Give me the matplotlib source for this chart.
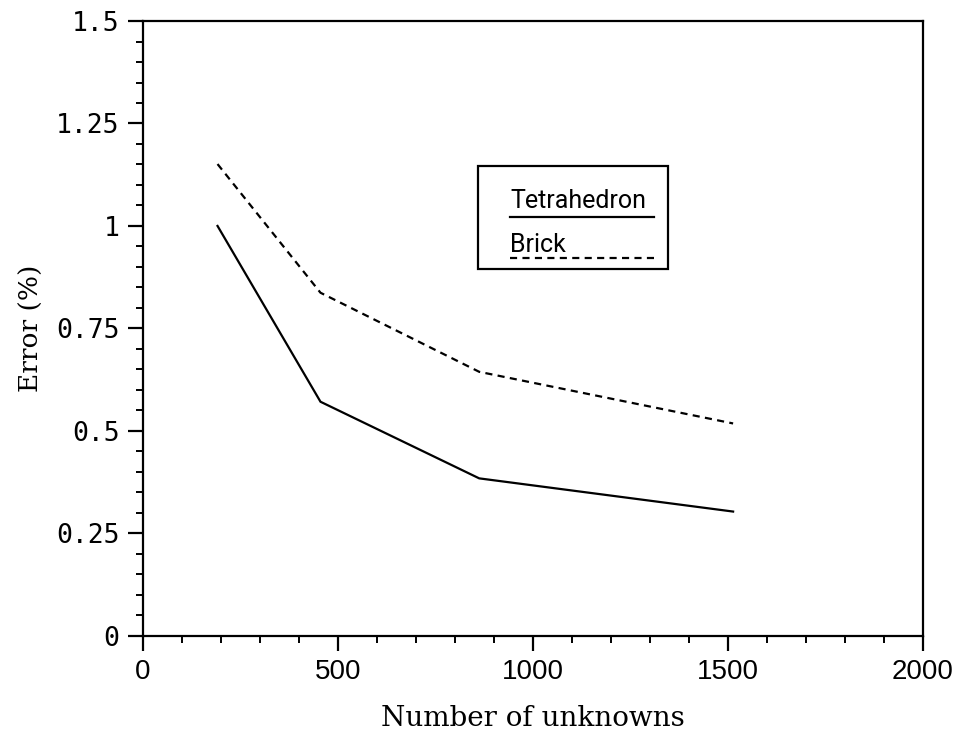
import numpy as np
import matplotlib
matplotlib.use("Agg")
import matplotlib.pyplot as plt
from matplotlib.patches import Rectangle
from matplotlib.lines import Line2D
from matplotlib.ticker import MultipleLocator, FixedLocator

# datos
unknowns = [191, 455, 862, 1513]
err_tetra = [1.000, 0.571, 0.384, 0.303]
err_brick = [1.151, 0.837, 0.644, 0.518]

x_ticks = [0, 500, 1000, 1500, 2000]
y_ticks = [0, 0.25, 0.5, 0.75, 1.0, 1.25, 1.5]
y_ticklabels = ["0", "0.25", "0.5", "0.75", "1", "1.25", "1.5"]

legend_names = ["Tetrahedron", "Brick"]

fig = plt.figure(figsize=(9.6, 7.33), dpi=100)
ax = fig.add_axes([0.149, 0.1327, 0.8125, 0.8386])

lw = 1.6
dash = (0, (3.2, 2.4))
ax.plot(unknowns, err_tetra, color="black", lw=lw, solid_joinstyle="miter")
ax.plot(unknowns, err_brick, color="black", lw=lw, linestyle=dash)

ax.set_xlim(0, 2000)
ax.set_ylim(0, 1.5)

for s in ax.spines.values():
    s.set_linewidth(1.6)

ax.xaxis.set_major_locator(FixedLocator(x_ticks))
ax.xaxis.set_minor_locator(MultipleLocator(100))
ax.yaxis.set_major_locator(FixedLocator(y_ticks))
ax.yaxis.set_minor_locator(MultipleLocator(0.05))
ax.set_yticklabels(y_ticklabels)

ax.tick_params(which="major", direction="out", length=11, width=1.6,
               labelsize=19, pad=6)
ax.tick_params(which="minor", direction="out", length=5, width=1.4)
for lab in ax.get_yticklabels():
    lab.set_family("DejaVu Sans Mono")
for lab in ax.get_xticklabels():
    lab.set_family("Liberation Sans")
    lab.set_fontsize(20)

ax.set_xlabel("Number of unknowns", family="DejaVu Serif", fontsize=20, labelpad=14)
ax.set_ylabel("Error (%)", family="DejaVu Serif", fontsize=19, labelpad=9)

# leyenda hecha a mano (texto arriba de la linea)
ax.add_patch(Rectangle((0.4295, 0.5966), 0.2435, 0.168, transform=ax.transAxes,
                       fill=False, lw=1.6, color="black"))
leg_font = "Roboto"
ax.text(0.4705, 0.696, legend_names[0], transform=ax.transAxes, fontsize=18,
        family=leg_font, va="baseline", ha="left")
ax.add_line(Line2D([0.4705, 0.655], [0.6816, 0.6816], transform=ax.transAxes,
                   color="black", lw=lw))
ax.text(0.4705, 0.6247, legend_names[1], transform=ax.transAxes, fontsize=18,
        family=leg_font, va="baseline", ha="left")
ax.add_line(Line2D([0.4705, 0.655], [0.6145, 0.6145], transform=ax.transAxes,
                   color="black", lw=lw, linestyle=dash))

fig.savefig("out.png", dpi=100)
